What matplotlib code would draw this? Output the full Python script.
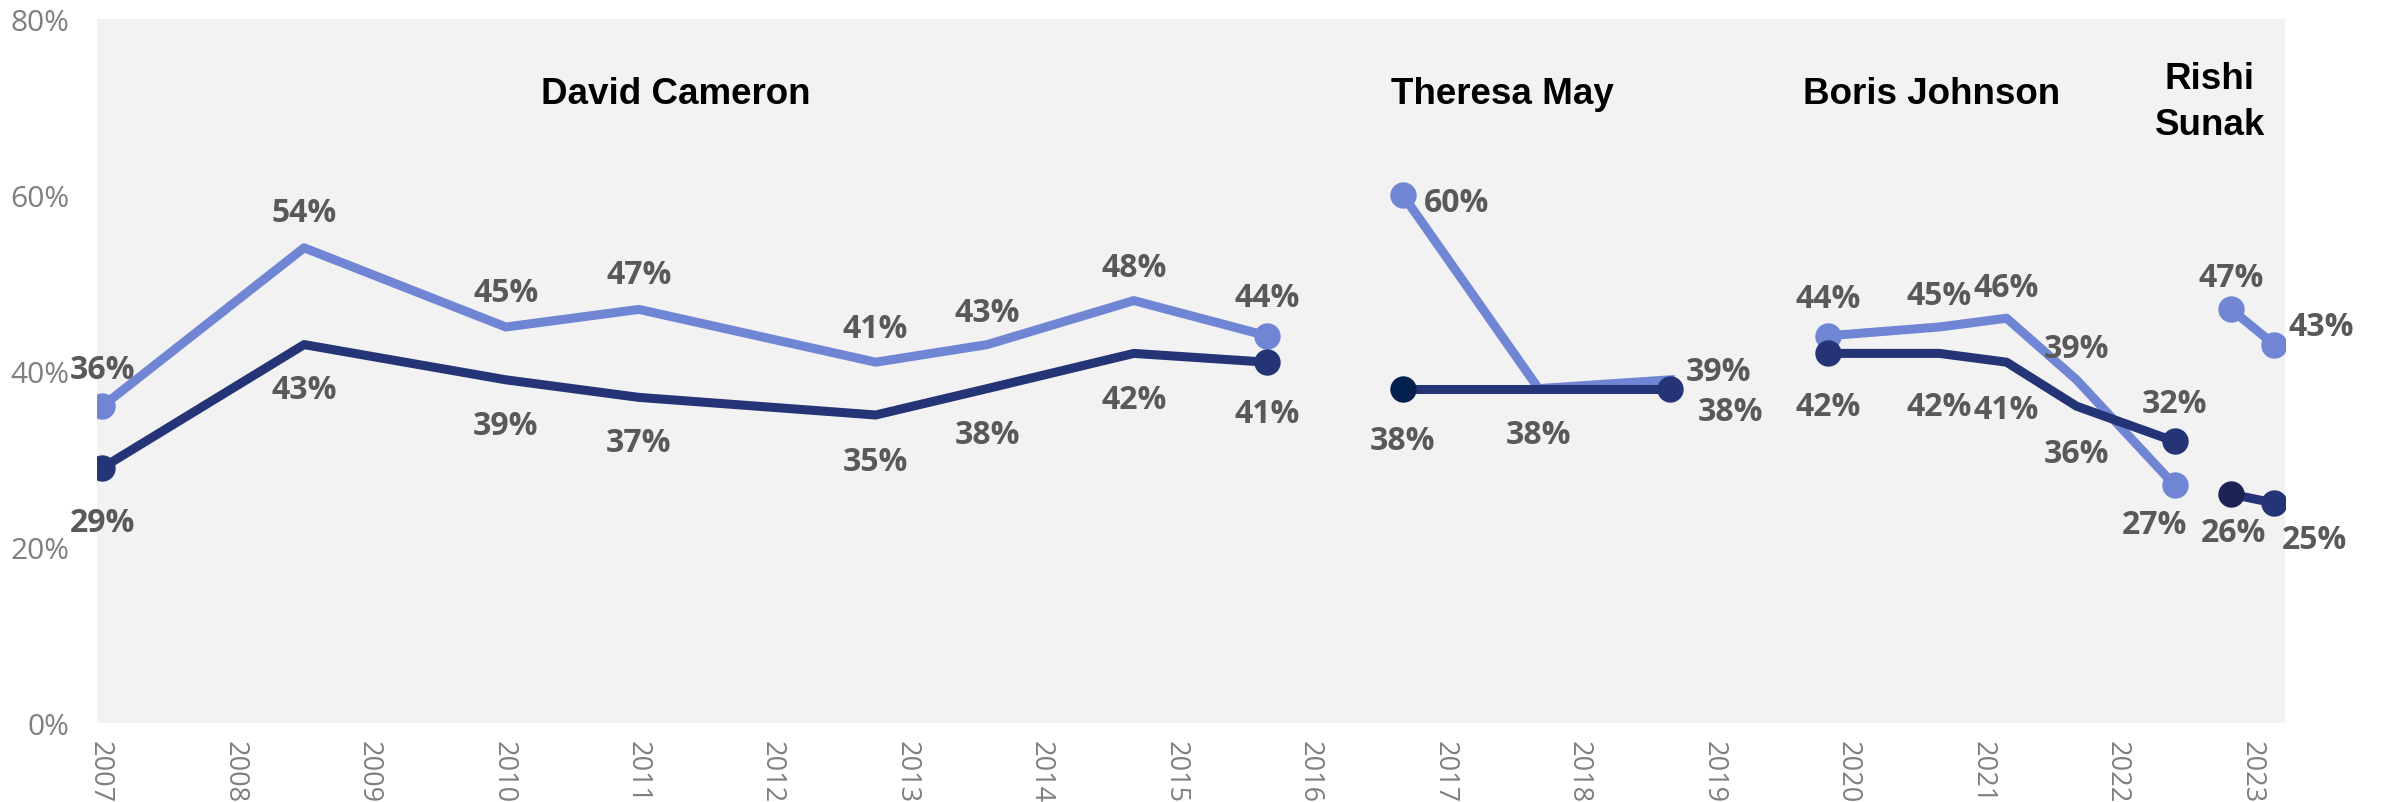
import matplotlib
matplotlib.use("Agg")
import matplotlib.pyplot as plt

# ---------------- data ----------------
cameron_x = [2007.02, 2008.52, 2010.02, 2011.01, 2012.77, 2013.60, 2014.69, 2015.68]
cameron_light = [36, 54, 45, 47, 41, 43, 48, 44]
cameron_dark = [29, 43, 39, 37, 35, 38, 42, 41]

may_x = [2016.69, 2017.70, 2018.68]
may_light = [60, 38, 39]
may_dark = [38, 38, 38]

johnson_x = [2019.85, 2020.68, 2021.18, 2021.70, 2022.43]
johnson_light = [44, 45, 46, 39, 27]
johnson_dark = [42, 42, 41, 36, 32]

sunak_x = [2022.85, 2023.17]
sunak_light = [47, 43]
sunak_dark = [26, 25]

pm_names = ["David Cameron", "Theresa May", "Boris Johnson", "Rishi\nSunak"]

years = list(range(2007, 2024))
y_ticks = [0, 20, 40, 60, 80]

# ---------------- style ----------------
LIGHT = "#7185d5"
DARK = "#243476"
LABEL_C = "#595959"
TICK_C = "#7f7f7f"

# label offsets (years, percentage points); None = no label
cameron_light_off = [(0, 4.7), (0, 4.5), (0, 4.4), (0, 4.5), (0, 4.3), (0, 4.2), (0, 4.3), (0, 4.9)]
cameron_dark_off = [(0, -5.7), (0, -4.6), (0, -4.7), (0, -4.6), (0, -4.8), (0, -4.7), (0, -4.7), (0, -5.3)]
may_light_off = [(0.40, -0.3), None, (0.36, 1.5)]
may_dark_off = [(0, -5.4), (0, -4.7), (0.45, -2.1)]
johnson_light_off = [(0, 4.7), (0, 4.1), (0, 4.0), (0, 4.1), (-0.15, -3.9)]
johnson_dark_off = [(0, -5.5), (0, -5.5), (0, -4.9), (0, -4.9), (0, 4.8)]
sunak_light_off = [(0, 4.1), (0.35, 2.6)]
sunak_dark_off = [(0.02, -3.9), (0.30, -3.6)]
LABEL_SHIFT = -0.5  # visual centring correction

segments = [
    (cameron_x, cameron_light, cameron_dark, cameron_light_off, cameron_dark_off, [0, -1], [DARK, DARK]),
    (may_x, may_light, may_dark, may_light_off, may_dark_off, [0], ["#03204f", DARK]),
    (johnson_x, johnson_light, johnson_dark, johnson_light_off, johnson_dark_off, [0, -1], [DARK, DARK]),
    (sunak_x, sunak_light, sunak_dark, sunak_light_off, sunak_dark_off, [0, -1], ["#1b2455", DARK]),
]

title_pos_x = [2011.28, 2017.43, 2020.62, 2022.69]

# ---------------- figure ----------------
fig = plt.figure(figsize=(23.81, 8.03), dpi=100)
ax = fig.add_axes([97 / 2381, 1 - 724 / 803, (2285 - 97) / 2381, (724 - 20) / 803])
ax.set_facecolor("#f2f2f2")

LW = 6.5
MS = 19
label_font = dict(family=["Open Sans", "DejaVu Sans"], fontsize=23, fontweight="bold", color=LABEL_C)

for xs, lv, dv, loff, doff, light_marks, dark_marker_cols in segments:
    ax.plot(xs, lv, color=LIGHT, lw=LW, solid_joinstyle="round", zorder=2)
    mk = [xs[i] for i in light_marks], [lv[i] for i in light_marks]
    ax.plot(mk[0], mk[1], "o", color=LIGHT, ms=MS, mew=0, zorder=2)
    ax.plot(xs, dv, color=DARK, lw=LW, solid_joinstyle="round", zorder=3)
    ax.plot([xs[0]], [dv[0]], "o", color=dark_marker_cols[0], ms=MS, mew=0, zorder=3)
    ax.plot([xs[-1]], [dv[-1]], "o", color=dark_marker_cols[1], ms=MS, mew=0, zorder=3)
    for x, v, off in zip(xs, lv, loff):
        if off is not None:
            ax.text(x + off[0], v + off[1] + LABEL_SHIFT, f"{v}%", ha="center", va="center",
                    zorder=4, **label_font)
    for x, v, off in zip(xs, dv, doff):
        if off is not None:
            ax.text(x + off[0], v + off[1] + LABEL_SHIFT, f"{v}%", ha="center", va="center",
                    zorder=4, **label_font)

for name, tx in zip(pm_names, title_pos_x):
    if "\n" in name:
        ax.text(tx, 66.9, name, ha="center", va="baseline", multialignment="center",
                fontsize=26.5, fontweight="bold", family="Liberation Sans", color="black",
                linespacing=1.42)
    else:
        ax.text(tx, 70.4, name, ha="center", va="baseline",
                fontsize=26.5, fontweight="bold", family="Liberation Sans", color="black")

ax.set_xlim(2006.98, 2023.25)
ax.set_ylim(0, 80)
ax.set_xticks(years)
ax.set_xticklabels([str(y) for y in years], rotation=270, fontsize=19.5,
                   color=TICK_C, family="Open Sans")
ax.set_yticks(y_ticks)
ax.set_yticklabels([f"{t}%" for t in y_ticks], fontsize=21.5, color=TICK_C, family="Open Sans")
ax.tick_params(axis="both", length=0)
ax.tick_params(axis="y", pad=20)
ax.tick_params(axis="x", pad=12)
for s in ax.spines.values():
    s.set_visible(False)

fig.savefig("out.png", dpi=100, facecolor="white")
